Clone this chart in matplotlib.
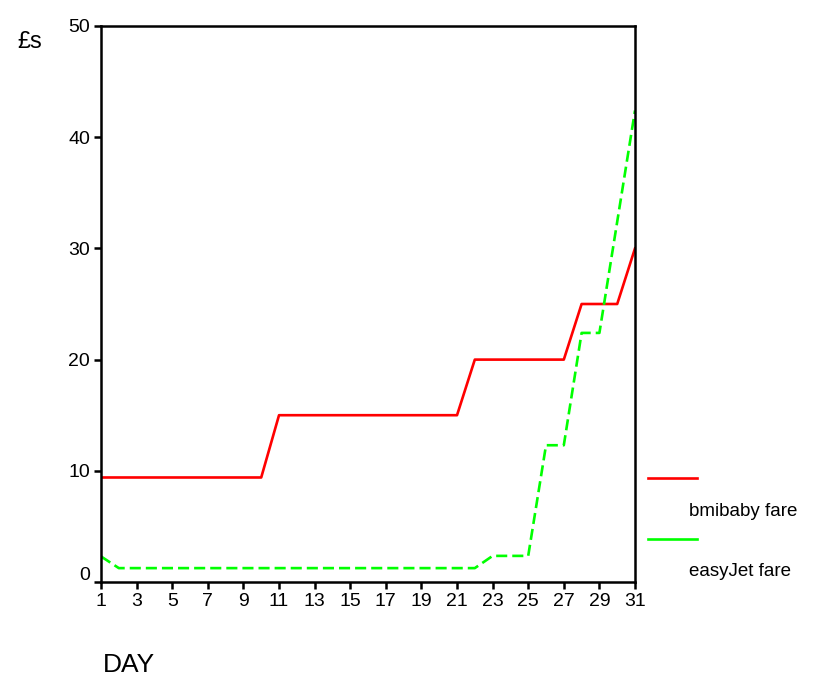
import matplotlib
matplotlib.use("Agg")
import matplotlib.pyplot as plt
import matplotlib.transforms as mtransforms
from matplotlib.lines import Line2D

plt.rcParams['font.family'] = ['Liberation Sans', 'DejaVu Sans']

# fares by day of month
days = list(range(1, 32))
bmibaby = [9.4] * 10 + [15.0] * 11 + [20.0] * 6 + [25.0] * 3 + [30.0]
easyjet = [2.3] + [1.25] * 21 + [2.35] * 3 + [12.3] * 2 + [22.4] * 2 + [32.4, 42.4]
x_ticks = list(range(1, 32, 2))
y_ticks = [0, 10, 20, 30, 40, 50]

fig = plt.figure(figsize=(8.2, 6.82), dpi=100)
ax = fig.add_axes([0.1232, 0.1466, 0.6512, 0.8153])

ax.plot(days, bmibaby, color='#ff0000', lw=1.9)
ax.plot(days, easyjet, color='#00ff00', lw=1.9, linestyle=(0, (4.2, 1.9)))

ax.set_xlim(1, 31)
ax.set_ylim(0, 50)
ax.set_xticks(x_ticks)
ax.set_yticks(y_ticks)
ax.tick_params(direction='out', length=5, width=1.8, labelsize=14)
ax.tick_params(axis='y', pad=3)
ax.tick_params(axis='x', pad=3)
for s in ax.spines.values():
    s.set_linewidth(1.8)

# the "0" label sits a little higher than its tick in the original
lbl0 = ax.get_yticklabels()[0]
lbl0.set_transform(lbl0.get_transform() +
                   mtransforms.ScaledTranslation(0, 9 / 100, fig.dpi_scale_trans))

fig.text(30 / 820, 1 - 42 / 682, '£s', fontsize=17, ha='center', va='center')
fig.text(103 / 820, 1 - 665 / 682, 'DAY', fontsize=19, ha='left', va='center')

# legend drawn by hand to the right of the plot
for y_line, y_txt, col, name in [(478, 511, '#ff0000', 'bmibaby fare'),
                                 (539, 571, '#00ff00', 'easyJet fare')]:
    fig.add_artist(Line2D([648 / 820, 697 / 820], [1 - y_line / 682] * 2,
                          color=col, lw=1.9))
    fig.text(689 / 820, 1 - y_txt / 682, name, fontsize=13.5, ha='left', va='center')

fig.savefig('out.png', dpi=100)
